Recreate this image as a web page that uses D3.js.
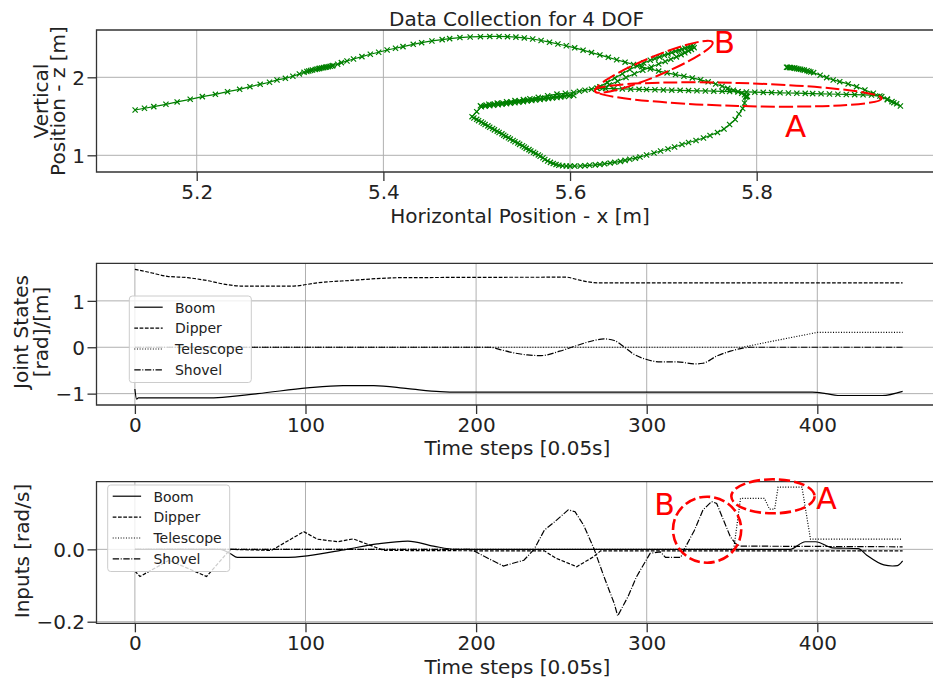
<!DOCTYPE html>
<html><head><meta charset="utf-8">
<script src="https://cdnjs.cloudflare.com/ajax/libs/d3/7.8.5/d3.min.js"></script>
<style>body{margin:0;background:#fff}svg{display:block}text{font-family:"DejaVu Sans",sans-serif}</style>
</head><body><svg id="chart" width="933" height="682"></svg>
<script>
// ---------------- DATA ----------------
// Top panel: end-effector path, horizontal x [m] and vertical z [m]
const trajX = [5.134,5.144,5.154,5.167,5.179,5.193,5.206,5.220,5.233,5.246,5.257,5.268,5.278,5.286,5.295,5.303,5.310,5.315,5.318,5.320,5.322,5.324,5.327,5.329,5.331,5.332,5.334,5.336,5.338,5.339,5.341,5.343,5.345,5.346,5.351,5.355,5.361,5.368,5.377,5.386,5.395,5.404,5.413,5.421,5.432,5.441,5.452,5.463,5.471,5.482,5.493,5.504,
5.514,5.524,5.533,5.542,5.551,5.560,5.569,5.578,5.587,5.596,5.605,5.614,5.623,5.632,5.641,5.650,5.659,5.668,5.677,5.686,5.695,5.704,5.713,5.722,5.731,5.740,5.748,5.756,5.763,5.769,5.775,5.780,5.784,5.787,5.789,5.790,5.789,
5.788,5.787,5.785,5.781,5.777,5.771,5.765,5.758,5.750,5.743,5.735,5.727,5.720,5.712,5.705,5.697,5.690,5.682,5.675,5.670,5.664,5.659,5.654,5.648,5.643,5.637,5.632,5.627,5.621,5.616,5.611,5.605,5.600,
5.596,5.592,5.588,5.585,5.582,5.579,5.576,5.573,5.571,5.568,
5.566,5.563,5.561,5.558,5.556,5.553,5.551,5.549,5.546,5.544,5.541,5.539,5.536,5.534,5.531,5.529,5.527,5.524,5.522,5.519,5.517,5.514,5.512,5.509,5.507,5.505,5.502,5.500,5.497,5.495,
5.500,5.505,5.509,5.514,5.518,5.523,5.527,5.532,5.536,5.541,5.545,5.550,5.554,5.559,5.563,5.568,5.572,5.577,5.581,5.586,5.590,5.594,5.599,5.604,
5.600,5.591,5.582,5.573,5.564,5.555,5.546,5.537,5.528,5.519,5.510,5.504,
5.513,5.522,5.532,5.541,5.550,5.557,5.566,5.576,5.586,5.595,5.604,5.610,5.616,5.623,5.629,
5.632,5.640,5.648,5.656,5.664,5.672,5.679,5.686,5.691,5.696,5.701,5.705,5.709,5.713,5.717,5.720,5.723,5.726,5.729,5.732,
5.733,5.730,5.727,5.723,5.719,5.714,5.708,5.702,5.695,5.687,5.678,5.669,5.660,5.651,5.642,5.635,
5.629,5.638,5.647,5.656,5.665,5.674,5.682,5.691,5.700,5.709,5.718,5.727,5.736,5.745,5.754,5.763,5.771,5.780,5.789,5.798,5.807,5.816,5.825,5.834,5.843,5.852,5.860,5.869,5.878,5.887,5.896,5.905,5.914,5.923,
5.934,5.940,5.945,5.950,5.954,5.947,5.940,5.932,5.925,5.916,5.907,5.898,5.889,5.882,5.875,5.868,5.861,5.858,5.856,5.854,5.851,5.849,5.847,5.845,5.843,5.841,5.840,5.838,5.836,5.835,5.833,5.832];
const trajZ = [1.581,1.603,1.624,1.654,1.684,1.718,1.752,1.782,1.816,1.846,1.880,1.910,1.936,1.966,1.987,2.013,2.043,2.064,2.074,2.081,2.088,2.094,2.101,2.107,2.111,2.115,2.120,2.124,2.128,2.132,2.136,2.141,2.146,2.150,2.167,2.188,2.209,2.235,2.265,2.295,2.321,2.350,2.372,2.393,2.423,2.444,2.466,2.483,2.496,2.509,2.517,2.521,
2.524,2.524,2.521,2.515,2.505,2.491,2.472,2.450,2.427,2.404,2.378,2.348,2.317,2.287,2.256,2.225,2.194,2.164,2.134,2.106,2.080,2.057,2.035,2.014,1.992,1.968,1.942,1.914,1.885,1.858,1.835,1.815,1.795,1.775,1.762,1.755,1.750,
1.747,1.670,1.600,1.529,1.459,1.395,1.337,1.292,1.254,1.222,1.190,1.164,1.138,1.106,1.081,1.055,1.030,1.004,0.978,0.963,0.949,0.935,0.922,0.910,0.900,0.891,0.883,0.877,0.872,0.867,0.863,0.862,0.861,
0.862,0.865,0.872,0.881,0.894,0.909,0.927,0.947,0.968,0.988,
1.005,1.022,1.039,1.056,1.073,1.089,1.106,1.123,1.140,1.157,1.174,1.191,1.208,1.225,1.242,1.258,1.275,1.292,1.309,1.326,1.343,1.360,1.377,1.394,1.411,1.427,1.444,1.461,1.478,1.495,
1.559,1.623,1.630,1.636,1.643,1.649,1.656,1.662,1.669,1.675,1.682,1.688,1.695,1.702,1.708,1.715,1.721,1.728,1.734,1.741,1.747,1.754,1.760,1.767,
1.773,1.760,1.747,1.734,1.721,1.708,1.695,1.682,1.669,1.656,1.643,1.634,
1.655,1.669,1.687,1.701,1.714,1.725,1.743,1.764,1.784,1.795,1.805,1.820,1.835,1.848,1.859,
1.880,1.935,1.990,2.045,2.100,2.145,2.183,2.218,2.240,2.262,2.283,2.300,2.317,2.333,2.348,2.360,2.372,2.383,2.393,2.401,
2.380,2.358,2.338,2.314,2.290,2.262,2.232,2.202,2.170,2.132,2.090,2.045,1.998,1.950,1.902,1.862,
1.859,1.856,1.854,1.851,1.848,1.846,1.843,1.841,1.838,1.835,1.833,1.830,1.827,1.825,1.822,1.820,1.817,1.815,1.812,1.809,1.807,1.804,1.801,1.799,1.796,1.794,1.791,1.788,1.786,1.783,1.780,1.778,1.775,1.772,
1.752,1.720,1.688,1.660,1.632,1.675,1.712,1.760,1.795,1.838,1.880,1.915,1.944,1.966,1.996,2.026,2.060,2.068,2.076,2.085,2.092,2.098,2.103,2.107,2.111,2.116,2.120,2.122,2.124,2.126,2.128,2.129];
const topXTicks = [5.2,5.4,5.6,5.8];
const topYTicks = [1,2];
// top annotations (centre x, centre z, half-width in x, half-height in z, angle deg)
const topNoteLabels = ["A","B"];
const topNoteCx = [5.7803,5.6898], topNoteCz = [1.7795,2.1346];
const topNoteRx = [0.1538,0.0683], topNoteRz = [0.1474,0.124], topNoteAng = [1.6,-22.6];
const topNoteTextX = [5.8303,5.754], topNoteTextZ = [1.2385,2.3077];

// Middle panel: joint states
const seriesNames = ["Boom","Dipper","Telescope","Shovel"];
const timeTicks = [0,100,200,300,400];
const stateYTicks = [-1,0,1];
const boomStateT = [0,1,2,42,72,101,122,140,160,179,190,397,405,412,438,450];
const boomStateV = [-0.90,-1.12,-1.093,-1.093,-1.0,-0.877,-0.827,-0.827,-0.892,-0.957,-0.968,-0.968,-1.0,-1.04,-1.04,-0.95];
const dipperStateT = [0,9,19,31,42,54,62,93,107,126,156,253,259,271,450];
const dipperStateV = [1.68,1.61,1.53,1.50,1.44,1.35,1.32,1.32,1.39,1.44,1.50,1.51,1.46,1.39,1.39];
const teleStateT = [0,356,377,400,450];
const teleStateV = [0,0,0.155,0.32,0.32];
const shovelStateT = [0,208,214,222,230,238,249,259,269,275,281,287,292,300,308,318,328,333,341,349,355,361,450];
const shovelStateV = [0,0,-0.05,-0.12,-0.165,-0.18,-0.085,0.037,0.145,0.18,0.145,0.0,-0.14,-0.265,-0.315,-0.315,-0.36,-0.345,-0.19,-0.085,-0.03,0,0];

// Bottom panel: inputs
const inputYTicks = [-0.2,0.0];
const boomInT = [0,50,56,60,90,101,124,142,160,175,188,384,393,399,409,424,429,439,444,447,450];
const boomInV = [0,0,-0.012,-0.022,-0.022,-0.018,0,0.015,0.023,0.009,0,0,0.021,0.021,0.004,0.002,-0.016,-0.043,-0.046,-0.045,-0.032];
const dipperInT = [0,3,20,42,56,80,99,107,119,128,146,200,240,247,259,269,273,450];
const dipperInV = [-0.06,-0.075,-0.03,-0.075,0,-0.003,0.049,0.028,0.021,0.029,-0.003,-0.004,-0.004,-0.025,-0.048,-0.02,-0.004,-0.004];
const teleInT = [0,351,355,369,372,375,377,391,396,450];
const teleInV = [0,0,0.141,0.141,0.111,0.111,0.172,0.172,0.028,0.028];
const shovelInT = [0,197,205,216,228,234,240,246,254,258,263,269,275,281,283,289,294,302,308,311,320,322,328,333,338,341,345,349,352,355,450];
const shovelInV = [0,0,-0.02,-0.046,-0.03,0,0.053,0.076,0.109,0.104,0.067,0.003,-0.076,-0.15,-0.184,-0.131,-0.076,-0.011,-0.007,-0.022,-0.022,0,0.053,0.109,0.132,0.127,0.081,0.035,0.016,0.009,0.007];
// bottom annotations (centre t, centre value, half-width t, half-height value)
const botNoteLabels = ["B","A"];
const botNoteCt = [335.4,374.0], botNoteCv = [0.0543,0.1466];
const botNoteRt = [20.0,24.4], botNoteRv = [0.0912,0.047];
const botNoteTextT = [304.4,399.4], botNoteTextV = [0.0949,0.1107];

// ---------------- DRAWING ----------------
const svg = d3.select("#chart");
svg.append("rect").attr("width",933).attr("height",682).attr("fill","#fff");
const DASH = {Boom:null, Dipper:"3.7,1.6", Telescope:"1,1.65", Shovel:"6.4,1.6,1,1.6"};
const defs = svg.append("defs");
const INK = "#222";

function panel(o){
  const {x,y,left,right,top,bottom,id} = o;
  defs.append("clipPath").attr("id",id).append("rect")
    .attr("x",left).attr("y",top).attr("width",right-left).attr("height",bottom-top);
  const g = svg.append("g");
  const grid = g.append("g").attr("stroke","#b0b0b0").attr("stroke-width",1);
  grid.selectAll(".gx").data(o.xTicks).join("line").attr("class","gx")
    .attr("x1",d=>x(d)).attr("x2",d=>x(d)).attr("y1",top).attr("y2",bottom);
  grid.selectAll(".gy").data(o.yTicks).join("line").attr("class","gy")
    .attr("y1",d=>y(d)).attr("y2",d=>y(d)).attr("x1",left).attr("x2",right);
  const data = g.append("g").attr("clip-path",`url(#${id})`);
  const axes = g.append("g");
  const ax = axes.append("g").attr("transform",`translate(0,${bottom})`)
    .call(d3.axisBottom(x).tickValues(o.xTicks).tickFormat(o.xFmt).tickSize(9).tickPadding(o.xPad));
  const ay = axes.append("g").attr("transform",`translate(${left},0)`)
    .call(d3.axisLeft(y).tickValues(o.yTicks).tickFormat(o.yFmt).tickSize(9).tickPadding(2.5));
  [ax,ay].forEach(a=>{
    a.attr("font-size",20).attr("font-family","DejaVu Sans");
    a.select(".domain").remove();
    a.selectAll(".tick line").attr("stroke","#333").attr("stroke-width",1.3);
    a.selectAll(".tick text").attr("fill",INK);
  });
  ay.selectAll(".tick text").attr("dy","0.36em");
  axes.append("path").attr("fill","none").attr("stroke","#333").attr("stroke-width",1.3)
    .attr("d",`M${right},${top}H${left}V${bottom}H${right}`);
  return {g,data,axes};
}

// ---- top
const xTop = d3.scaleLinear().domain([5.0926,5.9975]).range([96.5,941]);
const yTop = d3.scaleLinear().domain([0.7859,2.6064]).range([172,30]);
const P1 = panel({x:xTop,y:yTop,left:96.5,right:941,top:30,bottom:172,id:"c1",
  xTicks:topXTicks,yTicks:topYTicks,xFmt:d3.format(".1f"),yFmt:d3.format("d"),xPad:4.2});
const pts = trajX.map((v,i)=>[v,trajZ[i]]);
P1.data.append("path").datum(pts).attr("fill","none").attr("stroke","#008000").attr("stroke-width",1.2)
  .attr("d",d3.line().x(d=>xTop(d[0])).y(d=>yTop(d[1])));
P1.data.append("g").selectAll("path").data(pts).join("path")
  .attr("transform",d=>`translate(${xTop(d[0])},${yTop(d[1])})`)
  .attr("d","M-2.6,-2.6L2.6,2.6M-2.6,2.6L2.6,-2.6").attr("stroke","#008000").attr("stroke-width",1.2).attr("fill","none");
const noteG = svg.append("g");
topNoteLabels.forEach((lab,i)=>{
  const cx=xTop(topNoteCx[i]), cy=yTop(topNoteCz[i]);
  noteG.append("ellipse").attr("transform",`translate(${cx},${cy}) rotate(${topNoteAng[i]})`)
    .attr("rx",xTop(topNoteCx[i]+topNoteRx[i])-cx).attr("ry",cy-yTop(topNoteCz[i]+topNoteRz[i]))
    .attr("fill","none").attr("stroke","#ff0000").attr("stroke-width",2).attr("stroke-dasharray","14,4");
  noteG.append("text").attr("x",xTop(topNoteTextX[i])).attr("y",yTop(topNoteTextZ[i]))
    .attr("font-size",31).attr("fill","#ff0000").text(lab);
});
svg.append("text").attr("x",516.5).attr("y",26).attr("text-anchor","middle").attr("font-size",20).attr("fill",INK)
  .text("Data Collection for 4 DOF");
svg.append("text").attr("x",520).attr("y",222.5).attr("text-anchor","middle").attr("font-size",20).attr("fill",INK)
  .text("Horizontal Position - x [m]");
function ylab(lines, xs, yc){
  lines.forEach((t,i)=>svg.append("text").attr("transform",`translate(${xs[i]},${yc}) rotate(-90)`)
    .attr("text-anchor","middle").attr("font-size",20).attr("fill",INK).text(t));
}
ylab(["Vertical","Position - z [m]"],[48,64.5],101);

// ---- middle
const xT = d3.scaleLinear().domain([-22.5,472.5]).range([96.5,941]);
const yS = d3.scaleLinear().domain([-1.245,1.81]).range([405,263.3]);
const P2 = panel({x:xT,y:yS,left:96.5,right:941,top:263.3,bottom:405,id:"c2",
  xTicks:timeTicks,yTicks:stateYTicks,xFmt:d3.format("d"),yFmt:d3.format("d"),xPad:3.8});
function series(P, x, y, ts, vs, name, curve){
  P.data.append("path").datum(ts.map((t,i)=>[t,vs[i]])).attr("fill","none").attr("stroke","#000")
    .attr("stroke-width",1.2).attr("stroke-dasharray",DASH[name])
    .attr("d",d3.line().curve(curve).x(d=>x(d[0])).y(d=>y(d[1])));
}
series(P2,xT,yS,boomStateT,boomStateV,"Boom",d3.curveMonotoneX);
series(P2,xT,yS,dipperStateT,dipperStateV,"Dipper",d3.curveMonotoneX);
series(P2,xT,yS,teleStateT,teleStateV,"Telescope",d3.curveLinear);
series(P2,xT,yS,shovelStateT,shovelStateV,"Shovel",d3.curveMonotoneX);
svg.append("text").attr("x",517.4).attr("y",454.5).attr("text-anchor","middle").attr("font-size",20).attr("fill",INK)
  .text("Time steps [0.05s]");
ylab(["Joint States","[rad]/[m]"],[28,47.5],332);

// ---- bottom
const xB = d3.scaleLinear().domain([-22.5,472.5]).range([96.5,941]);
const yB = d3.scaleLinear().domain([-0.2044,0.187]).range([623.3,481.7]);
const P3 = panel({x:xB,y:yB,left:96.5,right:941,top:481.7,bottom:623.3,id:"c3",
  xTicks:timeTicks,yTicks:inputYTicks,xFmt:d3.format("d"),yFmt:d3.format(".1f"),xPad:3.8});
series(P3,xB,yB,boomInT,boomInV,"Boom",d3.curveMonotoneX);
series(P3,xB,yB,dipperInT,dipperInV,"Dipper",d3.curveLinear);
series(P3,xB,yB,teleInT,teleInV,"Telescope",d3.curveLinear);
series(P3,xB,yB,shovelInT,shovelInV,"Shovel",d3.curveLinear);
svg.append("text").attr("x",517.4).attr("y",673.5).attr("text-anchor","middle").attr("font-size",20).attr("fill",INK)
  .text("Time steps [0.05s]");
ylab(["Inputs [rad/s]"],[28.5],551);
botNoteLabels.forEach((lab,i)=>{
  const cx=xB(botNoteCt[i]), cy=yB(botNoteCv[i]);
  svg.append("ellipse").attr("cx",cx).attr("cy",cy)
    .attr("rx",xB(botNoteCt[i]+botNoteRt[i])-cx).attr("ry",cy-yB(botNoteCv[i]+botNoteRv[i]))
    .attr("fill","none").attr("stroke","#ff0000").attr("stroke-width",2.6).attr("stroke-dasharray","11,4");
  svg.append("text").attr("x",xB(botNoteTextT[i])).attr("y",yB(botNoteTextV[i]))
    .attr("font-size",30).attr("fill","#ff0000").text(lab);
});

// ---- legends
function legend(x0,y0){
  const g = svg.append("g").attr("transform",`translate(${x0},${y0})`);
  g.append("rect").attr("width",122).attr("height",86.5).attr("rx",3)
    .attr("fill","#fff").attr("fill-opacity",0.8).attr("stroke","#ccc").attr("stroke-width",1);
  seriesNames.forEach((n,i)=>{
    const cy = 11.2 + i*20.9;
    g.append("line").attr("x1",5).attr("x2",33.4).attr("y1",cy).attr("y2",cy)
      .attr("stroke","#000").attr("stroke-width",1.2).attr("stroke-dasharray",DASH[n]);
    g.append("text").attr("x",45.7).attr("y",cy+5.3).attr("font-size",14).attr("fill",INK).text(n);
  });
}
legend(129.3,296);
legend(107.7,485);
</script></body></html>
